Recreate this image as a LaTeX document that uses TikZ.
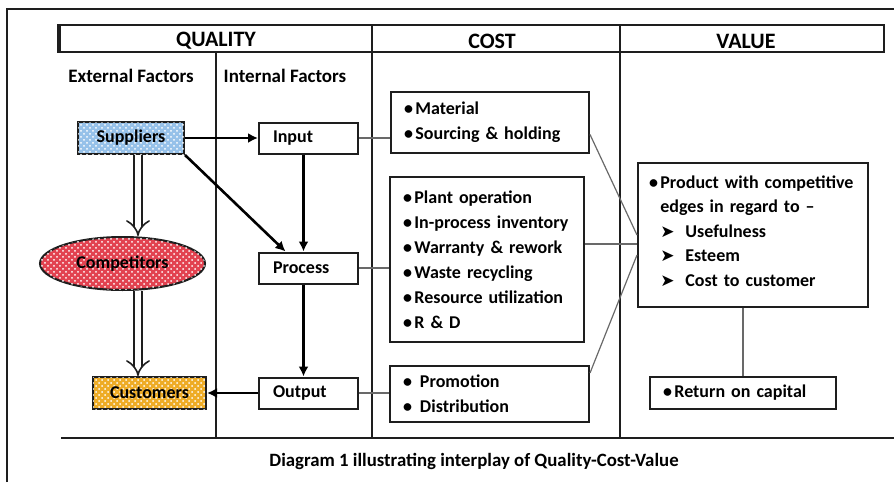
\documentclass[tikz,border=0pt]{standalone}
\usepackage{fontspec}
\setmainfont{Carlito}
\newfontfamily\dejavu{DejaVu Sans}
\usetikzlibrary{arrows.meta}
\usetikzlibrary{shapes.geometric}
\usetikzlibrary{patterns}
\tikzset{>={Latex[length=5pt,width=5pt]}}
\hyphenpenalty=10000
\exhyphenpenalty=10000
\definecolor{framegray}{RGB}{30,30,30}
\definecolor{linkgray}{RGB}{105,105,105}
\definecolor{supblue}{RGB}{150,193,233}
\definecolor{comred}{RGB}{226,66,80}
\definecolor{cusorange}{RGB}{238,172,38}
\newcommand{\tipmark}{{\dejavu\fontsize{8.5}{10}\selectfont ➤}}
\newcommand{\dotitem}[1][5.7pt]{\makebox[#1][l]{•}}
\tikzstyle{rule}=[draw=framegray,line width=1pt]
\tikzstyle{head}=[font=\bfseries\fontsize{11}{13}\selectfont]
\tikzstyle{label}=[font=\bfseries\fontsize{9.5}{11}\selectfont]
\tikzstyle{box}=[draw=framegray,line width=1pt,font=\bfseries\fontsize{9}{12.5}\selectfont]
\tikzstyle{stage}=[box,minimum width=49.5pt,minimum height=15.5pt,text width=35.5pt,inner xsep=7pt,align=left]
\tikzstyle{factor}=[box,minimum height=16pt,postaction={pattern=crosshatch dots,pattern color=white}]
\tikzstyle{costbox}=[box,align=left,inner ysep=0pt]
\tikzstyle{flow}=[draw=black,line width=1.3pt,->]
\tikzstyle{link}=[draw=linkgray,line width=0.6pt]
\tikzstyle{hollow}=[draw=framegray,double=white,double distance=3.4pt,line width=0.8pt,-{Implies}]

\begin{document}
\begin{tikzpicture}[x=0.5pt,y=-0.5pt]
  \useasboundingbox (0,0) rectangle (894,482);
  % frame, header bar and column rules
  \draw[draw=framegray,line width=0.8pt] (7,482) -- (7,9) -- (894,9);
  \draw[rule] (58,25) rectangle (884,52);
  \draw[draw=framegray,line width=2pt] (59,25) -- (59,52);
  \draw[rule] (372,25) -- (372,437);
  \draw[rule] (620,25) -- (620,437);
  \draw[rule] (216,52) -- (216,437);
  \draw[rule] (61,438) -- (894,438);
  \node[head] (qualityhead) at (216,41) {QUALITY};
  \node[head] (costhead) at (492,41) {COST};
  \node[head] (valuehead) at (746,41) {VALUE};
  \node[label] (extlabel) at (131,76) {External Factors};
  \node[label] (intlabel) at (285,76) {Internal Factors};

  % external factors
  \node[factor,fill=supblue,minimum width=53pt] (suppliers) at (131,138) {Suppliers};
  \node[factor,ellipse,fill=comred,minimum width=82.5pt,minimum height=26.5pt,inner sep=0pt]
    (competitors) at (122.5,263.5) {Competitors};
  \node[factor,fill=cusorange,minimum width=56.5pt] (customers) at (149.5,393) {Customers};

  % internal factors
  \node[stage] (input) at (308.5,138) {Input};
  \node[stage] (process) at (308.5,268) {Process};
  \node[stage] (output) at (308.5,393) {Output};

  % cost items
  \node[costbox,text width=86pt,inner xsep=6.5pt,minimum height=30.5pt] (costin) at (490,122.5)
    {\dotitem Material\\ \dotitem Sourcing \& holding};
  \node[costbox,text width=84pt,inner xsep=6.5pt,minimum height=82.5pt] (costprocess) at (487,259.5)
    {\dotitem Plant operation\\ \dotitem In-process inventory\\ \dotitem Warranty \& rework\\
     \dotitem Waste recycling\\ \dotitem Resource utilization\\ \dotitem R \& D};
  \node[costbox,text width=86.5pt,inner xsep=6.5pt,minimum height=28pt] (costout) at (489.5,394)
    {\dotitem[8.5pt]Promotion\\ \dotitem[8.5pt]Distribution};

  % value
  \node[costbox,text width=104pt,inner xsep=5.5pt,minimum height=72pt,text depth=53pt,
    font=\bfseries\fontsize{9}{12.25}\selectfont] (valuebox) at (753,235)
    {\dotitem Product with competitive\\
     \hspace*{5.7pt}edges in regard to --\\
     \hspace*{5.7pt}\makebox[12.5pt][l]{\tipmark}Usefulness\\
     \hspace*{5.7pt}\makebox[12.5pt][l]{\tipmark}Esteem\\
     \hspace*{5.7pt}\makebox[12.5pt][l]{\tipmark}Cost to customer};
  \node[costbox,text width=80pt,inner xsep=6.5pt,minimum height=16pt] (capital) at (743,393)
    {\dotitem Return on capital};

  % flows
  \draw[flow] (suppliers) -- (input);
  \draw[flow] (suppliers.south east) -- ([xshift=-11.5pt]process.north);
  \draw[flow] ([xshift=-2.5pt]input.south) -- ([xshift=-2.5pt]process.north);
  \draw[flow] ([xshift=-2.5pt]process.south) -- ([xshift=-2.5pt]output.north);
  \draw[flow] (output) -- (customers);
  \coordinate (spine) at (138,0);
  \draw[hollow] (suppliers.south -| spine) -- (competitors.north -| spine);
  \draw[hollow] (competitors.south -| spine) -- (customers.north -| spine);

  % links to cost and value
  \draw[link] (input.east) -- (input.east -| costin.west);
  \draw[link] (process.east) -- (process.east -| costprocess.west);
  \draw[link] (output) -- (output -| costout.west);
  \coordinate (valuein) at ([yshift=-4.5pt]valuebox.west);
  \draw[link] ([yshift=-6pt]costin.east) -- (valuebox.west);
  \draw[link] (valuein -| costprocess.east) -- (valuein);
  \draw[link] ([yshift=-4pt]costout.north east) -- ([yshift=-10pt]valuebox.west);
  \draw[link] (valuebox.south -| capital.north) -- (capital.north);

  \node[label,font=\bfseries\fontsize{9.4}{11}\selectfont] (caption) at (474,461)
    {Diagram 1 illustrating interplay of Quality-Cost-Value};
\end{tikzpicture}
\end{document}
